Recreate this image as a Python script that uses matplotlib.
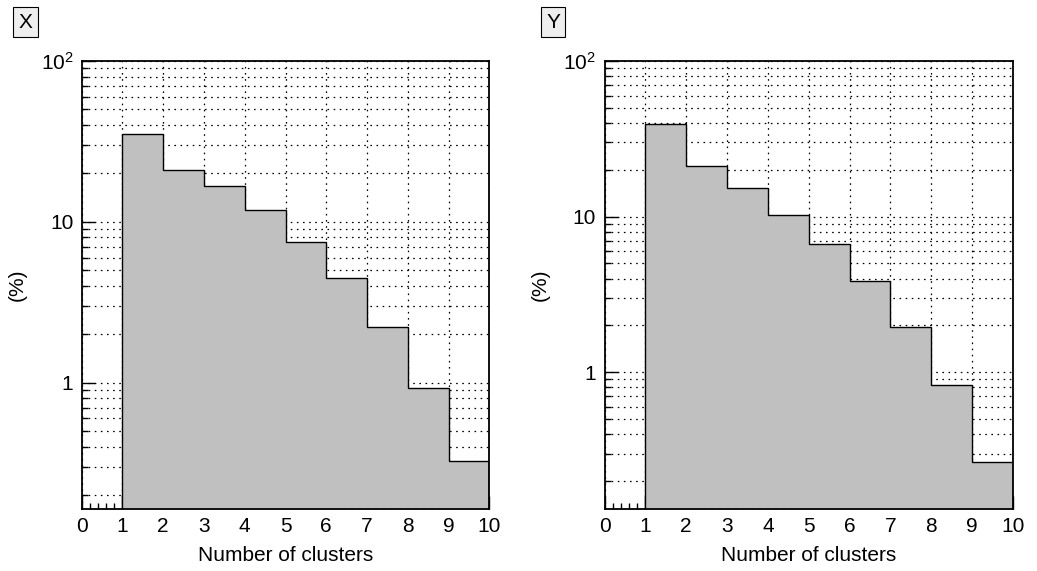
import numpy as np
import matplotlib
matplotlib.use('Agg')
import matplotlib.pyplot as plt
from matplotlib.ticker import LogLocator, FixedLocator, MultipleLocator, NullFormatter

plt.rcParams['font.family'] = ['Liberation Sans', 'DejaVu Sans']
plt.rcParams['mathtext.fontset'] = 'custom'
plt.rcParams['mathtext.rm'] = 'Liberation Sans'

# bin edges (number of clusters), bin 0-1 is empty
edges = [1, 2, 3, 4, 5, 6, 7, 8, 9, 10]
pct_x = [35.2, 20.95, 16.6, 11.8, 7.5, 4.45, 2.22, 0.927, 0.327]
pct_y = [39.3, 21.2, 15.3, 10.3, 6.64, 3.83, 1.94, 0.826, 0.264]
ymin_x = 0.164
ymin_y = 0.132
panel_names = ['X', 'Y']
xticks = [0, 1, 2, 3, 4, 5, 6, 7, 8, 9, 10]

fig = plt.figure(figsize=(10.37, 5.71), dpi=100)

W, H = 1037.0, 571.0
rects = [(81.7 / W, 1 - 509 / H, 407.6 / W, 448 / H),
         (604.5 / W, 1 - 509 / H, 408.5 / W, 448 / H)]
box_x = [25.5 / W, 553 / W]
grid_ls = (0, (1.3, 3.6))

for i, (vals, ymin) in enumerate([(pct_x, ymin_x), (pct_y, ymin_y)]):
    ax = fig.add_axes(rects[i])
    ax.set_yscale('log')
    ax.set_axisbelow(True)

    # gray fill then black outline
    ax.bar(edges[:-1], vals, width=1, align='edge', color='#c0c0c0', lw=0, zorder=1)
    ax.stairs(vals, edges, baseline=1e-3, color='black', lw=1.0, zorder=2)

    ax.set_xlim(0, 10)
    ax.set_ylim(ymin, 100)

    ax.xaxis.set_major_locator(FixedLocator(xticks))
    ax.xaxis.set_minor_locator(MultipleLocator(0.2))
    ax.yaxis.set_major_locator(FixedLocator([1, 10, 100]))
    ax.yaxis.set_minor_locator(LogLocator(base=10, subs=np.arange(2, 10), numticks=20))
    ax.yaxis.set_minor_formatter(NullFormatter())
    ax.set_yticklabels(['1', '10', r'$\mathregular{10^2}$'])

    ax.grid(True, which='major', axis='x', ls=grid_ls, color='black', lw=0.9)
    ax.grid(True, which='both', axis='y', ls=grid_ls, color='black', lw=0.9)

    ax.tick_params(which='both', direction='in', top=False, right=False,
                   labelsize=15, width=1.0, color='black')
    ax.tick_params(which='major', length=9.5)
    ax.tick_params(which='minor', length=4.5)
    ax.tick_params(axis='x', pad=6)
    ax.tick_params(axis='y', pad=6)
    for s in ax.spines.values():
        s.set_linewidth(1.3)

    ax.set_xlabel('Number of clusters', fontsize=15, labelpad=7)
    ax.set_ylabel('(%)', fontsize=15)
    ax.yaxis.set_label_coords(-0.135, 0.5)

    fig.text(box_x[i], 1 - 22 / H, panel_names[i], fontsize=15, ha='center', va='center',
             bbox=dict(boxstyle='square,pad=0.25', facecolor='#eeeeee', edgecolor='black', lw=0.8))

fig.savefig('out.png', dpi=100)
